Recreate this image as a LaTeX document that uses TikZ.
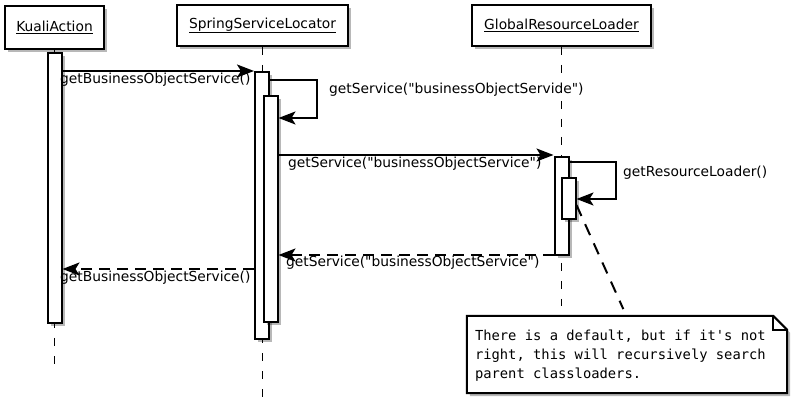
\documentclass[tikz,border=0pt]{standalone}
\usepackage{fontspec}
\setmainfont{DejaVu Sans}[Ligatures=TeXOff]
\newfontfamily\notefam{DejaVu Sans Mono}[Ligatures=TeXOff]
\usetikzlibrary{arrows.meta,shadows,calc}
\pgfdeclarelayer{bg}
\pgfsetlayers{bg,main}
\newcommand\monospaces{\spaceskip=0.602em\relax\xspaceskip=0.602em\relax}
\begin{document}
\begin{tikzpicture}[x=1pt,y=-1pt,
  shd/.style={drop shadow={shadow xshift=3pt,shadow yshift=-3pt,opacity=0.28,fill=black}},
  lblfont/.style={font=\fontsize{13.8}{16}\selectfont},
  actor/.style={draw,line width=2pt,fill=white,shd,inner sep=0pt,lblfont},
  actbar/.style={draw,line width=2pt,fill=white,shd,minimum width=14pt,inner sep=0pt},
  lifeline/.style={line width=1pt,dash pattern=on 8pt off 10pt},
  msg/.style={line width=2pt,-{Stealth[length=17pt,width=13pt,inset=4pt]}},
  ret/.style={msg,dash pattern=on 11pt off 7pt},
  lbl/.style={inner sep=0pt,anchor=west,lblfont},
  notebox/.style={inner xsep=8pt,inner ysep=0pt,text width=304pt,minimum height=77pt,align=left,
     font={\notefam\fontsize{13.8}{19}\selectfont}},
  noteline/.style={line width=2pt,fill=white,shd,line join=miter},
  notelink/.style={line width=2pt,dash pattern=on 12pt off 9pt,shorten >=9pt}
]
\useasboundingbox (0,0) rectangle (800,411);

% actors
\node[actor,minimum width=99pt,minimum height=43pt] (ka) at (54.5,27.5) {\underline{KualiAction}};
\node[actor,minimum width=171pt,minimum height=41pt] (ssl) at (262.5,25.5) {\underline{SpringServiceLocator}};
\node[actor,minimum width=179pt,minimum height=41pt] (grl) at (561.5,25.5) {\underline{GlobalResourceLoader}};

% lifelines
\draw[lifeline] (ka.south) -- (ka.south |- 0,368);
\draw[lifeline] (ssl.south) -- (ssl.south |- 0,402);
\draw[lifeline] (grl.south) -- (grl.south |- 0,306);

% activation bars
\node[actbar,minimum height=270pt] (kab) at (54.5,188) {};
\node[actbar,minimum height=267pt] (ssl1) at (262,205.5) {};
\node[actbar,minimum height=226pt] (ssl2) at (270.5,209) {};
\node[actbar,minimum height=98pt] (grl1) at (561.5,206) {};
\node[actbar,minimum height=41pt] (grl2) at (568.5,198.5) {};

% messages
\draw[msg] (kab.east |- 0,71) -- (ssl1.west |- 0,71);
\node[lbl] (l1) at (60,80) {getBusinessObjectService()};

\draw[msg] (ssl1.east |- 0,80) -- ++(47,0) |- (ssl2.east |- 0,118);
\node[lbl] (l2) at (329,90) {getService("businessObjectServide")};

\draw[msg] (ssl2.east |- 0,155) -- (grl1.west |- 0,155);
\node[lbl] (l3) at (288,164) {getService("businessObjectService")};

\draw[msg] (grl1.east |- 0,162) -- ++(46,0) |- (grl2.east |- 0,199);
\node[lbl] (l4) at (623,173) {getResourceLoader()};

\draw[ret] (grl1.west |- 0,255) -- (ssl2.east |- 0,255);
\node[lbl] (l5) at (286,263) {getService("businessObjectService")};

\draw[ret] (ssl1.west |- 0,269) -- (kab.east |- 0,269);
\node[lbl] (l6) at (60,278) {getBusinessObjectService()};

% note
\node[notebox] (note) at (627,356) {\monospaces There is a default, but if it's not\\right, this will recursively search\\parent classloaders.};
\begin{pgfonlayer}{bg}
\draw[noteline] ([yshift=1.5pt]note.north west) -- ([xshift=-14pt,yshift=1.5pt]note.north east) -- ([yshift=-12.5pt]note.north east)
   -- ([yshift=1.5pt]note.south east) -- ([yshift=1.5pt]note.south west) -- cycle;
\end{pgfonlayer}
\draw[line width=1.5pt] ([xshift=-14pt,yshift=1.5pt]note.north east) -- ([xshift=-14pt,yshift=-12.5pt]note.north east) -- ([yshift=-12.5pt]note.north east);
\draw[notelink] (grl2.east |- 0,205) -- (note.north);
\end{tikzpicture}
\end{document}
